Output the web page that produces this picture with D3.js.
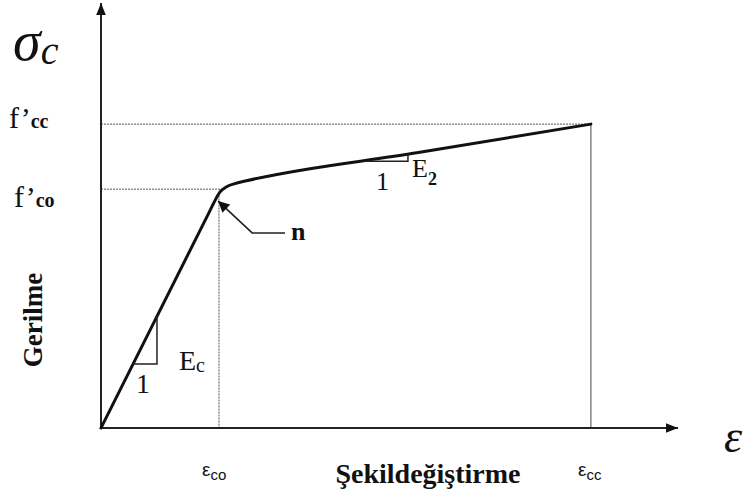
<!DOCTYPE html>
<html>
<head>
<meta charset="utf-8">
<script src="https://cdn.jsdelivr.net/npm/d3@7"></script>
<style>
  html, body { margin: 0; padding: 0; background: #fff; }
  svg { display: block; }
  text { font-family: "Liberation Serif", "DejaVu Serif", serif; fill: #111; }
</style>
</head>
<body>
<svg id="chart" width="747" height="501"></svg>
<script>
// Idealised stress–strain model for confined concrete (bilinear with a smooth knee)
const eco = 20.45;   // strain at unconfined peak
const fco = 56.2;    // unconfined strength
const ecc = 84.9;    // ultimate confined strain
const fcc = 71.5;    // confined strength

// Curve control points (strain, stress)
const strain = [0, 18.5, 19.9, 20.6, 21.7, 23.2, 25.0, 55.0, ecc];
const stress = [0, 50.1, 53.9, 55.5, 56.7, 57.5, 58.1, 64.8, fcc];

// Slope triangles: [x start, x end] on the curve
const ecTriangle = [5.55, 9.7];
const e2Triangle = [46.0, 53.2];

// Pointer to the transition point "n": tip, elbow, end
const nStrain = [20.3, 26.2, 31.9];
const nStress = [53.4, 45.9, 45.9];

const svg = d3.select("#chart");
const x = d3.scaleLinear().domain([0, 100]).range([101, 678]);
const y = d3.scaleLinear().domain([0, 100]).range([428, 3]);

const pts = strain.map((s, i) => [s, stress[i]]);
// linear interpolation along the curve (for triangle corners)
function onCurve(s) {
  for (let i = 1; i < pts.length; i++) {
    if (s <= pts[i][0]) {
      const t = (s - pts[i-1][0]) / (pts[i][0] - pts[i-1][0]);
      return pts[i-1][1] + t * (pts[i][1] - pts[i-1][1]);
    }
  }
  return pts[pts.length-1][1];
}

const defs = svg.append("defs");
defs.append("marker").attr("id", "ax").attr("viewBox", "0 0 10 10")
  .attr("refX", 10).attr("refY", 5).attr("markerWidth", 6).attr("markerHeight", 6)
  .attr("markerUnits", "strokeWidth").attr("orient", "auto")
  .append("path").attr("d", "M0,1 L10,5 L0,9 Z").attr("fill", "#111");
defs.append("marker").attr("id", "ptr").attr("viewBox", "0 0 10 10")
  .attr("refX", 10).attr("refY", 5).attr("markerWidth", 8).attr("markerHeight", 7)
  .attr("markerUnits", "strokeWidth").attr("orient", "auto")
  .append("path").attr("d", "M0,0 L10,5 L0,10 Z").attr("fill", "#111");

// Reference lines
const dotted = { stroke: "#555", "stroke-width": 1, "stroke-dasharray": "2,1" };
function line(x1, y1, x2, y2, style) {
  const l = svg.append("line")
    .attr("x1", x(x1)).attr("y1", y(y1)).attr("x2", x(x2)).attr("y2", y(y2));
  Object.entries(style).forEach(([k, v]) => l.attr(k, v));
  return l;
}
line(0, fcc, ecc, fcc, dotted);
line(0, fco, eco + 0.6, fco, dotted);
line(eco, fco - 0.8, eco, 0, dotted);
line(ecc, fcc, ecc, 0, { stroke: "#666", "stroke-width": 1.2 });

// Axes
svg.append("line").attr("x1", x(0)).attr("y1", y(0)).attr("x2", x(0)).attr("y2", y(100))
  .attr("stroke", "#222").attr("stroke-width", 2).attr("marker-end", "url(#ax)");
svg.append("line").attr("x1", x(0)).attr("y1", y(0)).attr("x2", x(100)).attr("y2", y(0))
  .attr("stroke", "#222").attr("stroke-width", 2).attr("marker-end", "url(#ax)");

// Stress-strain curve
svg.append("path").datum(pts)
  .attr("d", d3.line().x(d => x(d[0])).y(d => y(d[1])).curve(d3.curveMonotoneX))
  .attr("fill", "none").attr("stroke", "#111").attr("stroke-width", 3)
  .attr("stroke-linejoin", "round").attr("stroke-linecap", "round");

// Slope triangles
function triangle(r) {
  const y0 = onCurve(r[0]);
  svg.append("path")
    .attr("d", `M${x(r[0])},${y(y0)} L${x(r[1])},${y(y0)} L${x(r[1])},${y(onCurve(r[1]))}`)
    .attr("fill", "none").attr("stroke", "#222").attr("stroke-width", 1.5);
}
triangle(ecTriangle);
triangle(e2Triangle);

// Pointer to n
svg.append("path")
  .attr("d", d3.line()(nStrain.map((s, i) => [x(s), y(nStress[i])]).reverse()))
  .attr("fill", "none").attr("stroke", "#222").attr("stroke-width", 1.6)
  .attr("marker-end", "url(#ptr)");

// Labels
function txt(tx, ty, str, size, opts = {}) {
  const t = svg.append("text").attr("x", tx).attr("y", ty)
    .attr("font-size", size).text(str);
  if (opts.bold) t.attr("font-weight", "bold");
  if (opts.italic) t.attr("font-style", "italic");
  if (opts.anchor) t.attr("text-anchor", opts.anchor);
  if (opts.family) t.style("font-family", opts.family);
  return t;
}
function sub(tx, ty, main, subStr, size, subSize, dy, opts = {}) {
  const t = svg.append("text").attr("x", tx).attr("y", ty).attr("font-size", size);
  if (opts.family) t.style("font-family", opts.family);
  const m = t.append("tspan").text(main);
  if (opts.italic) m.attr("font-style", "italic");
  const s = t.append("tspan").attr("dy", dy).attr("font-size", subSize).text(subStr);
  if (opts.subItalic) s.attr("font-style", "italic");
  if (opts.subBold) s.attr("font-weight", "bold");
  return t;
}

sub(13, 60, "σ", "c", 56, 40, 4, { italic: true, subItalic: true });
sub(9, 128, "f’", "cc", 30, 20, 0, { subBold: true });
sub(14, 207, "f’", "co", 30, 20, 0, { subBold: true });

svg.append("text").attr("transform", "translate(42,320) rotate(-90)")
  .attr("text-anchor", "middle").attr("font-size", 27).attr("font-weight", "bold")
  .text("Gerilme");

txt(136, 393, "1", 28);
sub(179, 370, "E", "c", 28, 20, 2);
txt(376, 190, "1", 26);
sub(412, 177, "E", "2", 26, 18, 8, { subBold: true });
txt(291, 240, "n", 26, { bold: true });

const sans = "'Liberation Sans', Arial, sans-serif";
sub(202, 476, "ε", "co", 19, 15, 4, { family: sans });
sub(578, 476, "ε", "cc", 19, 15, 4, { family: sans });
txt(428, 483, "Şekildeğiştirme", 28, { bold: true, anchor: "middle" });
txt(724, 452, "ε", 46, { italic: true });
</script>
</body>
</html>
